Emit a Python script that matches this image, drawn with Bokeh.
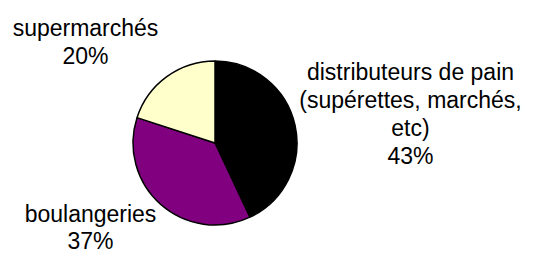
import math
from bokeh.plotting import figure
from bokeh.models import Range1d, ColumnDataSource
from bokeh.core.properties import value
from bokeh.embed import file_html
from bokeh.resources import INLINE

categories = ["distributeurs de pain\n(supérettes, marchés,\netc)", "boulangeries", "supermarchés"]
shares = [43, 37, 20]
colors = ["#000000", "#800080", "#FFFFCC"]

W, H = 523, 253
p = figure(width=W, height=H, output_backend="svg", toolbar_location=None,
           x_range=Range1d(0, W), y_range=Range1d(0, H), min_border=0)
p.axis.visible = False
p.grid.visible = False
p.outline_line_color = None
p.background_fill_color = "white"
p.border_fill_color = "white"

def Y(img_y):
    return H - img_y

cx, cy, r = 214.5, Y(142.5), 82
total = sum(shares)
starts, ends = [], []
acc = 0.0
for v in shares:
    starts.append(math.pi / 2 - 2 * math.pi * acc / total)
    acc += v
    ends.append(math.pi / 2 - 2 * math.pi * acc / total)

src = ColumnDataSource(dict(start=starts, end=ends, color=colors))
p.wedge(x=cx, y=cy, radius=r, start_angle="start", end_angle="end",
        direction="clock", fill_color="color", line_color="black",
        line_width=1.5, source=src)

# label anchors (picture px): center x, first baseline y, line spacing
anchors = [(410, 71, 28.0), (90, 213, 27.0), (85, 27, 28.0)]
tx, ty, tt = [], [], []
for cat, v, (ax, ay, lh) in zip(categories, shares, anchors):
    lines = cat.split("\n") + [f"{v}%"]
    for i, ln in enumerate(lines):
        tx.append(ax)
        ty.append(Y(ay + i * lh))
        tt.append(ln)

p.text(x=tx, y=ty, text=tt, text_font=value("Liberation Sans"),
       text_font_size="23px", text_color="black", text_align="center",
       text_baseline="alphabetic")

open("out.html", "w").write(file_html(p, INLINE))
